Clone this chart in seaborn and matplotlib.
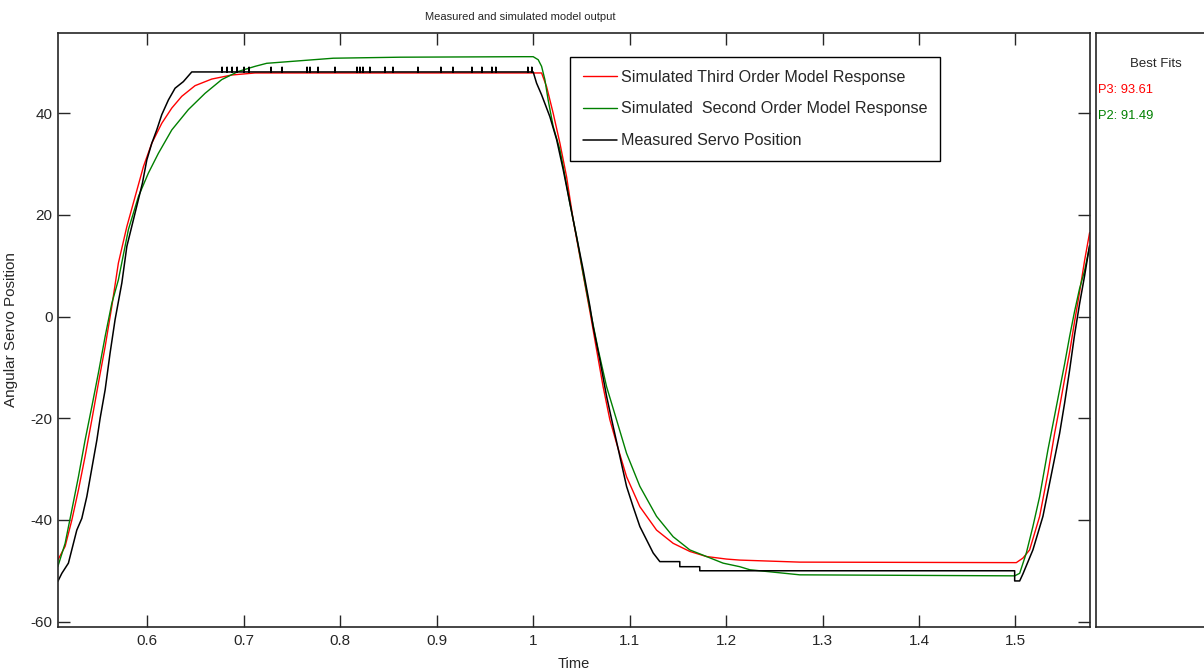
import matplotlib
matplotlib.use("Agg")
import matplotlib.pyplot as plt
import pandas as pd
import seaborn as sns

# ---- measured servo position (black) ----
meas_t = [0.5071, 0.5113, 0.5181, 0.5268, 0.5320, 0.5372, 0.5424, 0.5476, 0.5510, 0.5562,
          0.5613, 0.5665, 0.5735, 0.5787, 0.5838, 0.5890, 0.5948, 0.5994, 0.6046, 0.6097,
          0.6149, 0.6218, 0.6287, 0.6373, 0.6460,
          1.0000, 1.0035, 1.0087, 1.0173, 1.0243, 1.0311, 1.0380, 1.0450, 1.0518, 1.0588,
          1.0622, 1.0691, 1.0761, 1.0829, 1.0899, 1.0968, 1.1036, 1.1106, 1.1175, 1.1244,
          1.1313, 1.1520, 1.1520, 1.1727, 1.1727, 1.4992, 1.4992, 1.5044, 1.5078, 1.5181,
          1.5285, 1.5389, 1.5458, 1.5510, 1.5562, 1.5613, 1.5665, 1.5717, 1.5769]
meas_v = [-52.1, -50.5, -48.5, -42.0, -39.7, -35.4, -29.8, -24.3, -20.0, -14.4,
          -7.2, -0.6, 6.6, 13.8, 17.7, 21.6, 26.2, 30.8, 34.1, 36.7,
          39.7, 42.6, 44.9, 46.2, 48.1,
          48.1, 45.9, 43.6, 39.3, 34.8, 28.9, 22.3, 15.7, 9.2, 2.0,
          -2.0, -8.5, -15.7, -21.6, -27.5, -33.4, -37.4, -41.3, -43.9, -46.5,
          -48.2, -48.2, -49.2, -49.2, -50.0, -50.0, -52.0, -52.0, -50.6, -45.9,
          -39.3, -29.5, -23.0, -17.0, -10.5, -3.6, 2.5, 8.0, 14.0]
# single-sample glitches on the upper plateau
glitch_t = [0.6774, 0.6826, 0.6878, 0.6930, 0.7002, 0.7054, 0.7282, 0.7396, 0.7655,
            0.7686, 0.7769, 0.7945, 0.8173, 0.8204, 0.8235, 0.8307, 0.8463, 0.8546,
            0.8805, 0.9043, 0.9168, 0.9365, 0.9468, 0.9572, 0.9613, 0.9945, 0.9986]
plateau_level = 48.1
glitch_level = 49.0

# ---- simulated third order model (red) ----
p3_t = [0.5071, 0.5147, 0.5217, 0.5285, 0.5354, 0.5424, 0.5492, 0.5562, 0.5631, 0.5699,
        0.5787, 0.5873, 0.5959, 0.6046, 0.6149, 0.6253, 0.6356, 0.6494, 0.6667, 0.6875,
        0.7116, 1.0000, 1.0087, 1.0139, 1.0207, 1.0277, 1.0346, 1.0415, 1.0484, 1.0553,
        1.0588, 1.0657, 1.0725, 1.0795, 1.0864, 1.0968, 1.1106, 1.1279, 1.1451, 1.1624,
        1.1797, 1.2004, 1.2142, 1.2764, 1.5009, 1.5078, 1.5147, 1.5251, 1.5337, 1.5406,
        1.5458, 1.5510, 1.5562, 1.5613, 1.5665, 1.5717, 1.5769]
p3_v = [-47.9, -45.2, -40.0, -34.1, -27.5, -20.3, -13.1, -5.9, 2.0, 10.5,
        17.7, 23.6, 29.5, 34.1, 38.0, 41.0, 43.3, 45.4, 46.7, 47.5,
        47.9, 47.9, 47.9, 45.2, 40.0, 34.1, 27.5, 19.0, 11.8, 4.6,
        1.0, -6.5, -13.8, -20.3, -24.9, -31.5, -37.4, -42.0, -44.6, -46.2,
        -47.2, -47.7, -47.9, -48.3, -48.4, -47.5, -45.9, -39.3, -30.8, -23.0,
        -17.8, -12.3, -7.0, -1.0, 4.8, 11.0, 16.5]

# ---- simulated second order model (green) ----
p2_t = [0.5071, 0.5147, 0.5217, 0.5285, 0.5354, 0.5424, 0.5492, 0.5562, 0.5631, 0.5699,
        0.5803, 0.5907, 0.6010, 0.6114, 0.6253, 0.6425, 0.6598, 0.6771, 0.6943, 0.7116,
        0.7237, 0.7927, 0.8619, 0.9893, 1.0000, 1.0052, 1.0087, 1.0121, 1.0155, 1.0207,
        1.0277, 1.0311, 1.0380, 1.0450, 1.0518, 1.0588, 1.0674, 1.0761, 1.0864, 1.0968,
        1.1106, 1.1279, 1.1451, 1.1624, 1.1797, 1.1969, 1.2142, 1.2246, 1.2764, 1.4992,
        1.5044, 1.5113, 1.5181, 1.5251, 1.5337, 1.5406, 1.5458, 1.5510, 1.5562, 1.5613,
        1.5665, 1.5717, 1.5769]
p2_v = [-49.2, -44.6, -38.0, -31.5, -24.3, -17.7, -11.1, -3.9, 2.6, 7.2,
        17.1, 23.6, 28.2, 32.1, 36.7, 40.7, 43.9, 46.6, 48.2, 49.2,
        49.8, 50.8, 51.0, 51.1, 51.1, 50.5, 49.2, 46.6, 42.6, 37.4,
        32.8, 29.5, 22.3, 15.7, 8.5, 1.5, -6.5, -13.8, -20.3, -26.9,
        -33.4, -39.3, -43.3, -45.9, -47.2, -48.5, -49.2, -49.8, -50.8, -51.0,
        -50.5, -46.5, -41.3, -35.4, -26.2, -19.5, -14.4, -9.3, -3.9, 1.0,
        5.5, 9.0, 13.8]

x_ticks = [0.6, 0.7, 0.8, 0.9, 1.0, 1.1, 1.2, 1.3, 1.4, 1.5]
x_tick_labels = ["0.6", "0.7", "0.8", "0.9", "1", "1.1", "1.2", "1.3", "1.4", "1.5"]
y_ticks = [-60, -40, -20, 0, 20, 40]
y_tick_labels = ["-60", "-40", "-20", "0", "20", "40"]

label_p3 = "Simulated Third Order Model Response"
label_p2 = "Simulated  Second Order Model Response"
label_meas = "Measured Servo Position"
fit_p3 = "P3: 93.61"
fit_p2 = "P2: 91.49"

# assemble the measured trace, inserting glitch samples on the plateau
rise_end = meas_t.index(0.6460) + 1
bt = meas_t[:rise_end]
bv = meas_v[:rise_end]
for g in glitch_t:
    bt += [g, g, g]
    bv += [plateau_level, glitch_level, plateau_level]
bt += meas_t[rise_end:]
bv += meas_v[rise_end:]

df_meas = pd.DataFrame({"t": bt, "v": bv})
df_p3 = pd.DataFrame({"t": p3_t, "v": p3_v})
df_p2 = pd.DataFrame({"t": p2_t, "v": p2_v})

sns.set_theme(style="white")
plt.rcParams["font.family"] = ["Liberation Sans", "DejaVu Sans"]
plt.rcParams["axes.unicode_minus"] = False

W, H = 1204, 671
fig = plt.figure(figsize=(W / 100, H / 100), dpi=100)
ax = fig.add_axes([57.7 / W, 1 - 626.7 / H, (1089.7 - 57.7) / W, (626.7 - 33.3) / H])

RED, GREEN, BLACK = "#ff0000", "#008000", "#000000"
sns.lineplot(data=df_p3, x="t", y="v", sort=False, estimator=None, color=RED, lw=1.0, ax=ax, label=label_p3)
sns.lineplot(data=df_p2, x="t", y="v", sort=False, estimator=None, color=GREEN, lw=1.0, ax=ax, label=label_p2)
sns.lineplot(data=df_meas, x="t", y="v", sort=False, estimator=None, color=BLACK, lw=1.1, ax=ax, label=label_meas)

ax.set_xlim(0.507, 1.577)
ax.set_ylim(-61.0, 55.7)
ax.set_xticks(x_ticks)
ax.set_xticklabels(x_tick_labels)
ax.set_yticks(y_ticks)
ax.set_yticklabels(y_tick_labels)

edge = "#262626"
for s in ax.spines.values():
    s.set_visible(True)
    s.set_color(edge)
    s.set_linewidth(1.2)
ax.tick_params(axis="both", direction="in", length=8.6, width=1.0, colors=edge,
               top=True, right=True, bottom=True, left=True, labelsize=11)
ax.tick_params(axis="x", pad=5.5)
ax.tick_params(axis="y", pad=3.6)

ax.set_xlabel("Time", fontsize=10.5, labelpad=6, color=edge)
ax.set_ylabel("Angular Servo Position", fontsize=11, labelpad=9, color=edge)

handles, labels = ax.get_legend_handles_labels()
leg = ax.legend(handles, labels, loc="upper left", bbox_to_anchor=(0.4964, 0.9606),
                fontsize=11.6, frameon=True, fancybox=False, edgecolor="black",
                framealpha=1, borderpad=0.8, handlelength=2.1, handletextpad=0.25,
                borderaxespad=0, labelspacing=1.05)
leg.get_frame().set_linewidth(1.0)

# side panel listing the fit percentages
ax2 = fig.add_axes([1095.7 / W, 1 - 626.7 / H, 0.2, (626.7 - 33.3) / H])
ax2.set_xticks([])
ax2.set_yticks([])
for s in ax2.spines.values():
    s.set_color(edge)
    s.set_linewidth(1.2)

fig.text(520 / W, 1 - 17 / H, "Measured and simulated model output", ha="center", va="center",
         fontsize=8, color=edge)
fig.text(1156 / W, 1 - 64 / H, "Best Fits", ha="center", va="center", fontsize=9.5, color=edge)
fig.text(1097.5 / W, 1 - 90 / H, fit_p3, ha="left", va="center", fontsize=9.3, color=RED)
fig.text(1097.5 / W, 1 - 116 / H, fit_p2, ha="left", va="center", fontsize=9.3, color=GREEN)

fig.savefig("out.png", dpi=100)
